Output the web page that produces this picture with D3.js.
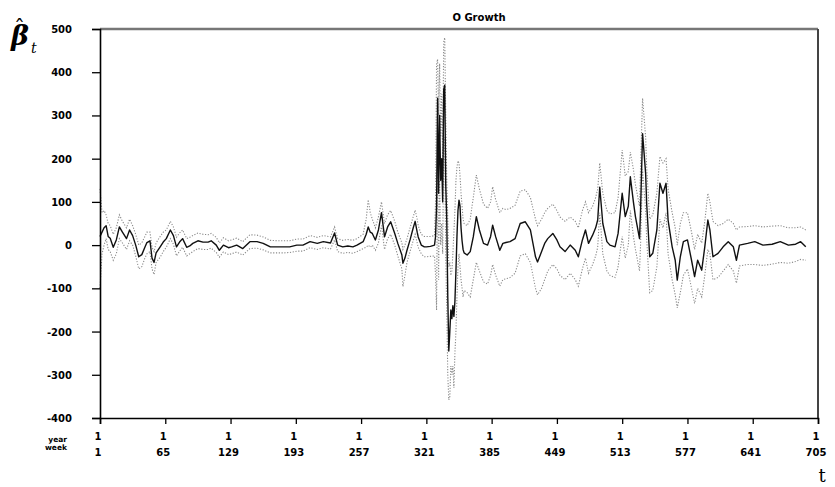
<!DOCTYPE html>
<html>
<head>
<meta charset="utf-8">
<script src="https://cdn.jsdelivr.net/npm/d3@7"></script>
<style>
  html, body { margin: 0; padding: 0; background: #fff; }
  svg { display: block; }
</style>
</head>
<body>
<svg id="chart" width="835" height="487"></svg>
<script>
const chartTitle = "O Growth";
const yTicks = [500, 400, 300, 200, 100, 0, -100, -200, -300, -400];
const xTicks = [1, 65, 129, 193, 257, 321, 385, 449, 513, 577, 641, 705];
const yearRow = ["1", "1", "1", "1", "1", "1", "1", "1", "1", "1", "1", "1"];
const rowNames = ["year", "week"];

const weeks = [1,3,5,7,9,11,14,17,20,23,27,30,33,36,39,42,45,47,50,52,54,56,60,63,66,70,73,76,79,82,86,89,92,97,102,107,110,115,118,122,127,130,135,141,148,155,161,168,175,181,187,194,200,207,214,220,227,231,234,239,244,249,253,259,262,264,266,268,271,274,277,280,283,286,290,293,297,298,300,302,305,308,310,312,313,316,319,321,325,329,330,331,332,333,334,335,336,337,338,339,340,341,342,343,344,345,346,347,348,349,350,351,352,353,354,355,356,357,358,361,364,367,370,373,377,381,384,386,389,393,396,399,403,408,413,418,423,428,430,434,437,440,445,449,452,457,462,467,470,474,477,480,484,487,489,491,494,498,501,506,509,513,516,519,521,524,526,530,531,533,536,537,540,543,547,550,553,556,558,562,565,567,570,573,577,581,584,587,591,594,597,599,602,607,612,617,622,625,628,636,643,651,660,668,676,683,688,693];

const estimate = [20,30,40,45,20,16,-5,12,42,30,15,35,22,0,-27,-22,-5,6,10,-30,-40,-18,-4,7,15,35,22,-4,7,15,-5,-2,4,10,7,7,10,0,-12,0,-6,-4,0,-8,8,8,4,-4,-4,-4,-4,0,0,8,4,8,5,28,0,-4,-2,-4,0,8,25,42,30,27,12,35,75,19,42,54,27,4,-23,-42,-30,-12,12,39,55,30,19,0,-4,-4,-3,0,20,90,340,120,300,150,200,100,360,370,140,60,-120,-245,-200,-150,-170,-140,-165,-130,-60,20,80,104,90,40,10,-10,-18,-23,-15,19,66,35,4,0,20,46,19,-12,4,6,8,15,50,54,35,-27,-39,-15,4,15,27,12,-4,-15,0,-12,-27,12,35,4,23,40,58,134,50,8,0,-4,27,120,66,90,158,100,66,15,80,258,166,97,-27,-19,35,143,120,143,58,-4,-35,-81,-27,8,12,-35,-73,-35,-58,-4,58,35,-27,-19,-4,8,-4,-35,0,4,8,0,2,8,0,2,8,-4];

const upperBand = [130,75,80,70,50,45,25,40,70,55,40,60,45,25,0,5,20,30,30,-5,-15,5,20,30,35,55,42,18,28,35,15,18,22,28,25,24,27,18,5,17,10,12,16,8,24,23,19,11,10,10,10,14,14,22,18,22,19,42,15,11,13,11,15,25,60,105,75,60,40,65,100,50,70,80,55,30,5,-10,0,15,40,65,81,60,45,25,20,20,20,22,100,420,430,300,420,250,350,200,470,480,300,150,60,-50,-40,-70,-60,-20,30,80,150,180,195,190,160,120,90,60,50,45,60,110,162,130,95,85,100,135,105,75,85,82,85,92,125,128,110,60,45,60,75,85,95,80,65,55,65,55,40,80,100,75,90,110,130,190,120,80,72,75,110,220,160,170,215,175,140,90,180,340,250,180,60,70,120,205,190,200,130,75,40,0,50,75,75,30,-10,25,5,55,120,100,55,45,50,60,50,35,42,43,45,42,44,45,40,40,42,35];

const lowerBand = [-100,-20,0,15,-10,-15,-35,-20,15,5,-10,10,0,-25,-55,-50,-30,-20,-15,-55,-68,-40,-28,-15,-5,15,2,-25,-14,-5,-25,-20,-15,-8,-10,-10,-7,-17,-28,-16,-22,-20,-16,-23,-8,-7,-11,-18,-18,-18,-17,-14,-14,-6,-10,-6,-9,12,-15,-19,-17,-19,-15,-8,-5,0,-5,0,-12,5,45,-10,15,25,0,-25,-55,-96,-70,-40,-15,10,25,5,-5,-20,-27,-27,-26,-25,-70,-150,200,-80,150,0,50,-20,240,250,-30,-150,-300,-358,-350,-280,-300,-280,-330,-250,-200,-120,-50,-20,-50,-80,-100,-120,-105,-110,-120,-80,-40,-60,-85,-90,-70,-45,-70,-95,-80,-78,-75,-65,-25,-20,-40,-100,-115,-100,-80,-60,-45,-55,-70,-80,-65,-80,-95,-55,-30,-65,-45,-25,-5,75,-20,-60,-70,-75,-50,20,-30,0,80,20,-10,-60,0,175,80,15,-110,-105,-50,60,40,75,-20,-80,-115,-145,-110,-70,-55,-100,-135,-100,-120,-70,-10,-20,-80,-75,-60,-45,-60,-88,-48,-45,-45,-47,-44,-40,-42,-38,-33,-35];

const svg = d3.select("#chart");
const L = 100, R = 818, T = 29, B = 418;
const x = d3.scaleLinear().domain([1, 705]).range([L, R]);
const y = d3.scaleLinear().domain([-400, 500]).range([B, T]);
const labelFont = "'DejaVu Sans', sans-serif";

const n = Math.min(weeks.length, estimate.length, upperBand.length, lowerBand.length);
const rows = d3.range(n).map(i => ({t: weeks[i], e: estimate[i], u: upperBand[i], l: lowerBand[i]}));

// frame: top gray rule and right border
svg.append("line").attr("x1", L).attr("x2", R).attr("y1", T).attr("y2", T)
  .attr("stroke", "#777").attr("stroke-width", 2.5);
svg.append("line").attr("x1", R).attr("x2", R).attr("y1", T).attr("y2", B)
  .attr("stroke", "#444").attr("stroke-width", 2);

// bands (dotted gray) and estimate (solid black)
const lineU = d3.line().x(d => x(d.t)).y(d => y(d.u));
const lineL = d3.line().x(d => x(d.t)).y(d => y(d.l));
const lineE = d3.line().x(d => x(d.t)).y(d => y(d.e));
[lineU, lineL].forEach(g => {
  svg.append("path").datum(rows).attr("d", g).attr("fill", "none")
    .attr("stroke", "#8a8a8a").attr("stroke-width", 1.1).attr("stroke-dasharray", "1.2,1.6");
});
svg.append("path").datum(rows).attr("d", lineE).attr("fill", "none")
  .attr("stroke", "#111").attr("stroke-width", 1.4).attr("stroke-linejoin", "round");

// y axis
const yAxis = d3.axisLeft(y).tickValues(yTicks).tickSize(8).tickPadding(20)
  .tickFormat(d => String(d));
const gy = svg.append("g").attr("transform", `translate(${L},0)`).call(yAxis);
gy.select(".domain").attr("stroke", "#000").attr("stroke-width", 1.6);
gy.selectAll(".tick line").attr("stroke", "#000").attr("stroke-width", 1.3);
gy.selectAll(".tick text").attr("font-family", labelFont).attr("font-weight", "bold")
  .attr("font-size", 10).attr("fill", "#000").attr("dy", "0.35em");

// x axis
const xAxis = d3.axisBottom(x).tickValues(xTicks).tickSize(6).tickFormat(() => "");
const gx = svg.append("g").attr("transform", `translate(0,${B})`).call(xAxis);
gx.select(".domain").attr("stroke", "#000").attr("stroke-width", 1.6);
gx.selectAll(".tick line").attr("stroke", "#000").attr("stroke-width", 1.3);

// two-row tick labels
svg.append("g").selectAll("text").data(xTicks).join("text")
  .attr("x", d => x(d) - 2).attr("y", 440).attr("text-anchor", "middle")
  .attr("font-family", labelFont).attr("font-weight", "bold").attr("font-size", 10)
  .text((d, i) => yearRow[i]);
svg.append("g").selectAll("text").data(xTicks).join("text")
  .attr("x", d => x(d) - 2).attr("y", 456).attr("text-anchor", "middle")
  .attr("font-family", labelFont).attr("font-weight", "bold").attr("font-size", 10)
  .text(d => String(d));
svg.append("g").selectAll("text").data(rowNames).join("text")
  .attr("x", 67).attr("y", (d, i) => 442 + i * 8).attr("text-anchor", "end")
  .attr("font-family", labelFont).attr("font-weight", "bold").attr("font-size", 7.5)
  .text(d => d);

// title
svg.append("text").attr("x", 479).attr("y", 21).attr("text-anchor", "middle")
  .attr("font-family", labelFont).attr("font-weight", "bold").attr("font-size", 10)
  .text(chartTitle);

// y label: beta hat sub t (one text element)
const yl = svg.append("text").attr("font-family", "'DejaVu Serif', serif");
yl.append("tspan").attr("x", 11).attr("y", 45).attr("font-style", "italic")
  .attr("font-weight", "bold").attr("font-size", 27).text("β");
yl.append("tspan").attr("x", 14).attr("y", 36).attr("font-size", 22).text("ˆ");
yl.append("tspan").attr("x", 31).attr("y", 53).attr("font-style", "italic")
  .attr("font-size", 14).text("t");

// x label
svg.append("text").attr("x", 822).attr("y", 482).attr("text-anchor", "middle")
  .attr("font-family", "'DejaVu Serif', serif").attr("font-size", 18).text("t");
</script>
</body>
</html>
